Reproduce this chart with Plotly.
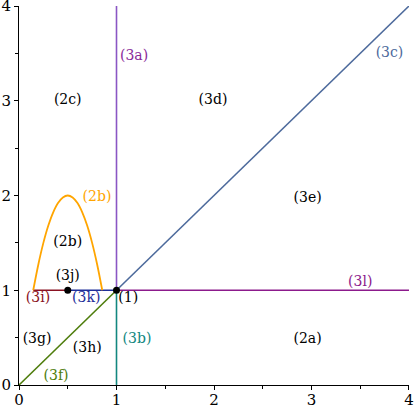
import plotly.graph_objects as go

# boundary segments (x, y endpoints)
seg_names = ["3a", "3b", "3c", "3f", "3l", "3k", "3i"]
seg_x = [[1, 1], [1, 1], [1, 4], [0, 1], [1, 4], [0.5, 1], [0.146, 0.5]]
seg_y = [[1, 4], [0, 1], [1, 4], [0, 1], [1, 1], [1, 1], [1, 1]]
seg_colors = ["#8a56c4", "#12877f", "#4d6a9c", "#4e7d0c", "#8c1a8c", "#1e2f9a", "#8a1222"]

# parabola (2b)
curve_x = [0.146, 0.2, 0.25, 0.3, 0.35, 0.4, 0.45, 0.5, 0.55, 0.6, 0.65, 0.7, 0.75, 0.8, 0.854]
curve_y = [1.0, 1.28, 1.5, 1.68, 1.82, 1.92, 1.98, 2.0, 1.98, 1.92, 1.82, 1.68, 1.5, 1.28, 1.0]

# marked points
pt_x = [0.5, 1]
pt_y = [1, 1]

# region / curve labels
lab_text = ["(3a)", "(3c)", "(2c)", "(3d)", "(2b)", "(3e)", "(2b)", "(3j)", "(3i)", "(3k)",
            "(1)", "(3l)", "(3g)", "(3h)", "(3b)", "(2a)", "(3f)"]
lab_x = [1.18, 3.8, 0.5, 1.99, 0.8, 2.96, 0.5, 0.5, 0.195, 0.69, 1.12, 3.5, 0.185, 0.7, 1.21, 2.96, 0.38]
lab_y = [3.47, 3.5, 3.0, 3.0, 1.98, 1.97, 1.5, 1.14, 0.91, 0.91, 0.91, 1.08, 0.485, 0.39, 0.485, 0.485, 0.085]
lab_colors = ["#8a2a9a", "#4d6a9c", "black", "black", "#ffa500", "black", "black", "black", "#8a1222",
              "#1e2f9a", "black", "#8c1a8c", "black", "black", "#12877f", "black", "#4e7d0c"]

fig = go.Figure()
for name, xs, ys, c in zip(seg_names, seg_x, seg_y, seg_colors):
    fig.add_trace(go.Scatter(x=xs, y=ys, mode="lines", line=dict(color=c, width=1.6), name=name))
fig.add_trace(go.Scatter(x=curve_x, y=curve_y, mode="lines", line=dict(color="#ffa500", width=1.8,
                                                                      shape="spline"), name="2b"))
fig.add_trace(go.Scatter(x=pt_x, y=pt_y, mode="markers", marker=dict(color="black", size=7), name="pts"))
fig.add_trace(go.Scatter(x=lab_x, y=lab_y, mode="text", text=lab_text, cliponaxis=False,
                         textfont=dict(color=lab_colors, size=14, family="DejaVu Serif"), name="labels"))

axis_common = dict(range=[0, 4.0001], showgrid=False, zeroline=False, showline=True, linecolor="black",
                   linewidth=1, ticks="outside", ticklen=4, tickcolor="black", tickvals=[0, 1, 2, 3, 4],
                   automargin=False, ticklabeloverflow="allow",
                   tickfont=dict(family="DejaVu Serif", size=15, color="black"),
                   minor=dict(tickvals=[0.5, 1.5, 2.5, 3.5], ticks="outside", ticklen=3, tickcolor="black"))
fig.update_xaxes(**axis_common, ticklabelstandoff=-3)
fig.update_yaxes(**axis_common)
fig.update_layout(width=416, height=410, margin=dict(l=19, r=7, t=6, b=25), showlegend=False,
                  plot_bgcolor="white", paper_bgcolor="white")
fig.write_html("out.html", config={"displayModeBar": False},
               post_script="document.body.style.margin='0';")
